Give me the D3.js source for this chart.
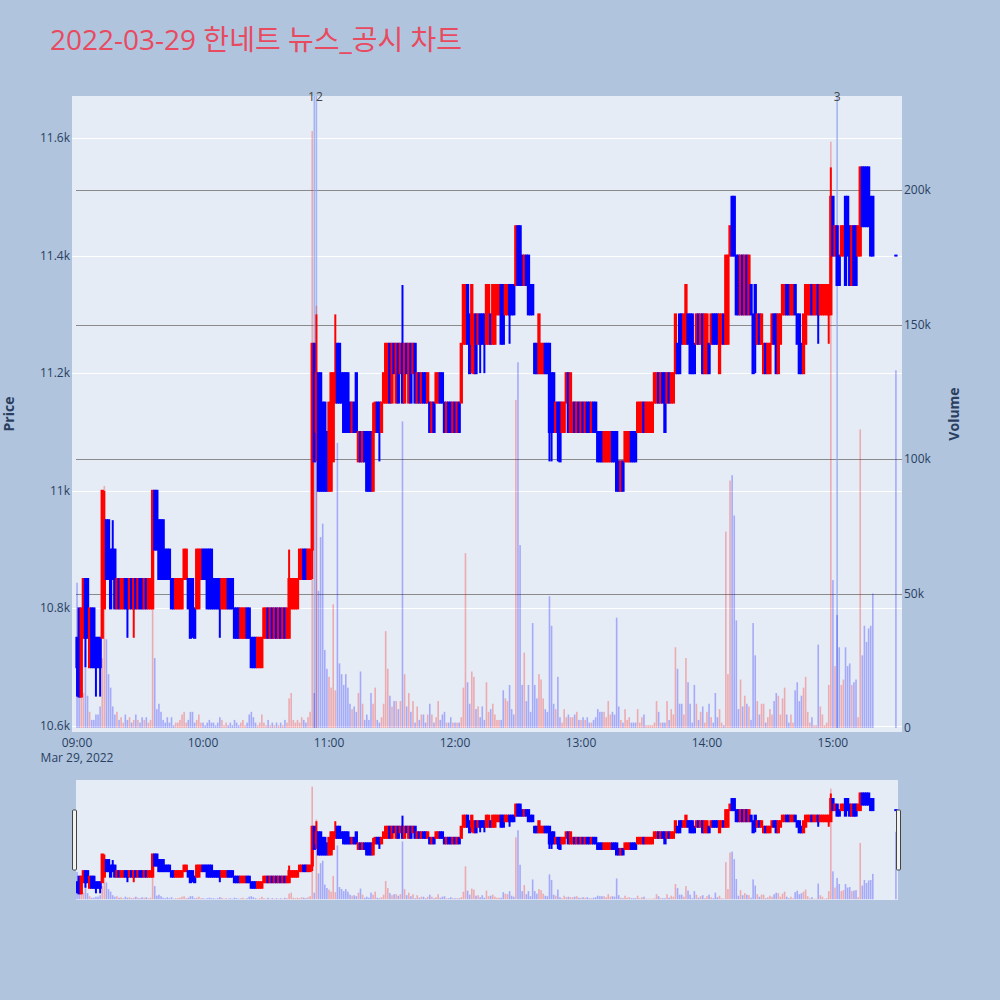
<!DOCTYPE html>
<html><head><meta charset="utf-8">
<script src="https://cdn.jsdelivr.net/npm/d3@7"></script>
<style>body{margin:0;background:#b0c4de;}svg{display:block;font-family:"Open Sans","Noto Sans CJK KR",sans-serif;}</style>
</head><body><svg id="c" width="1000" height="1000"></svg>
<script>
const chartTitle = "2022-03-29 한네트 뉴스_공시 차트";
const sessionDate = "2022-03-29";
const firstBar = "09:00";          // one bar per minute from here
const closingAuctionBar = "15:30"; // last bar (closing auction)
const priceTicks = [10600, 10800, 11000, 11200, 11400, 11600];
const volumeTicks = [0, 50000, 100000, 150000, 200000];
const timeTicks = ["09:00","10:00","11:00","12:00","13:00","14:00","15:00"];
const newsLabels = ["1","2","3"];
const newsTimes = ["10:53","10:54","15:02"];

const opens = [
10750,10800,10650,10750,10850,10850,10700,10800,10800,10750,
10750,10750,10750,10800,10950,10950,10900,10900,10900,10800,
10850,10800,10800,10850,10850,10800,10850,10800,10850,10800,
10850,10850,10800,10850,10800,10800,10800,11000,11000,10950,
10950,10950,10900,10900,10900,10850,10850,10800,10800,10800,
10800,10850,10850,10850,10850,10850,10800,10800,10800,10850,
10900,10900,10900,10900,10900,10850,10850,10850,10850,10800,
10800,10800,10850,10850,10850,10800,10800,10800,10750,10750,
10750,10800,10800,10750,10750,10750,10700,10700,10700,10750,
10750,10800,10750,10800,10750,10800,10750,10800,10750,10800,
10750,10750,10800,10800,10800,10800,10850,10850,10900,10900,
10850,10850,10900,11250,11100,11200,11200,11150,11150,11100,
11000,11000,11050,11150,11250,11250,11200,11200,11200,11200,
11150,11100,11150,11200,11050,11100,11050,11100,11100,11100,
11100,11000,11100,11150,11150,11100,11150,11150,11150,11250,
11150,11250,11150,11250,11200,11250,11150,11250,11150,11250,
11200,11250,11150,11200,11150,11200,11200,11150,11150,11100,
11150,11150,11150,11200,11200,11150,11100,11150,11150,11100,
11150,11100,11150,11150,11250,11250,11350,11300,11250,11200,
11300,11250,11300,11300,11300,11250,11250,11300,11250,11250,
11300,11300,11350,11350,11300,11300,11350,11350,11350,11350,
11450,11450,11400,11350,11400,11400,11350,11350,11250,11250,
11200,11200,11200,11250,11250,11250,11200,11200,11100,11150,
11150,11100,11100,11150,11200,11100,11100,11150,11100,11150,
11100,11150,11100,11150,11150,11100,11150,11150,11100,11100,
11100,11050,11050,11050,11050,11100,11100,11100,11050,11000,
11050,11050,11050,11050,11100,11100,11100,11100,11100,11100,
11150,11100,11100,11100,11100,11150,11150,11200,11150,11200,
11200,11150,11200,11150,11150,11200,11250,11300,11300,11250,
11250,11300,11300,11300,11250,11250,11300,11250,11300,11200,
11200,11250,11250,11300,11300,11300,11200,11250,11300,11250,
11250,11400,11500,11500,11400,11400,11300,11400,11300,11400,
11300,11350,11300,11350,11250,11300,11250,11200,11250,11200,
11200,11250,11300,11300,11200,11250,11300,11300,11350,11350,
11300,11300,11350,11300,11300,11250,11200,11250,11300,11300,
11350,11300,11300,11350,11300,11300,11300,11300,11300,11300,
11500,11400,11450,11400,11400,11400,11500,11500,11450,11350,
11450,11450,11400,11400,11550,11550,11550,11550,11500,11500,
11400];

const highs = [
10750,10800,10800,10850,10850,10850,10800,10800,10800,10750,
10750,10750,11000,11000,10950,10950,10900,10950,10900,10850,
10850,10850,10850,10850,10850,10850,10850,10850,10850,10850,
10850,10850,10850,10850,10850,10850,11000,11000,11000,10950,
10950,10950,10900,10900,10900,10850,10850,10850,10850,10850,
10850,10900,10900,10850,10850,10850,10800,10900,10900,10900,
10900,10900,10900,10900,10900,10850,10850,10850,10850,10850,
10850,10850,10850,10850,10850,10800,10800,10800,10800,10800,
10800,10800,10800,10750,10750,10750,10750,10750,10750,10800,
10800,10800,10800,10800,10800,10800,10800,10800,10800,10800,
10800,10900,10850,10850,10850,10850,10900,10900,10900,10900,
10900,10900,11250,11250,11300,11200,11200,11150,11150,11100,
11150,11200,11200,11300,11250,11250,11200,11200,11200,11200,
11150,11150,11150,11200,11100,11100,11100,11100,11100,11100,
11100,11150,11150,11150,11150,11150,11200,11250,11250,11250,
11250,11250,11250,11250,11250,11350,11250,11250,11250,11250,
11250,11250,11200,11200,11200,11200,11200,11200,11150,11150,
11150,11200,11200,11200,11200,11150,11150,11150,11150,11150,
11150,11150,11150,11250,11350,11350,11350,11300,11350,11300,
11300,11300,11300,11300,11300,11350,11350,11300,11350,11350,
11350,11350,11350,11350,11350,11350,11350,11350,11350,11450,
11450,11450,11400,11400,11400,11400,11350,11350,11250,11250,
11300,11250,11250,11250,11250,11250,11200,11200,11150,11150,
11150,11150,11150,11200,11200,11200,11150,11150,11150,11150,
11150,11150,11150,11150,11150,11150,11150,11150,11100,11100,
11100,11100,11100,11100,11100,11100,11100,11100,11050,11050,
11050,11100,11100,11100,11100,11100,11100,11150,11150,11150,
11150,11150,11150,11150,11150,11200,11200,11200,11200,11200,
11200,11200,11200,11200,11200,11300,11250,11300,11300,11300,
11350,11300,11300,11300,11250,11300,11300,11300,11300,11300,
11300,11250,11300,11300,11300,11300,11300,11300,11300,11400,
11400,11450,11500,11500,11400,11400,11400,11400,11400,11400,
11400,11350,11300,11350,11300,11300,11300,11250,11250,11250,
11250,11300,11300,11300,11300,11300,11350,11350,11350,11350,
11350,11350,11350,11300,11300,11250,11300,11350,11350,11350,
11350,11350,11350,11350,11350,11350,11350,11350,11350,11550,
11500,11450,11450,11400,11450,11450,11500,11500,11450,11450,
11450,11450,11450,11550,11550,11550,11550,11550,11500,11500,
11400];

const lows = [
10650,10650,10650,10750,10700,10750,10700,10700,10700,10650,
10700,10650,10750,10800,10850,10850,10800,10850,10800,10800,
10800,10800,10800,10800,10750,10800,10800,10750,10800,10800,
10800,10800,10800,10800,10800,10800,10800,10900,10900,10850,
10850,10850,10850,10850,10850,10800,10800,10800,10800,10800,
10800,10850,10850,10800,10750,10750,10750,10800,10800,10850,
10850,10850,10800,10800,10800,10800,10800,10800,10750,10800,
10800,10800,10800,10800,10800,10750,10750,10750,10750,10750,
10750,10750,10750,10700,10700,10700,10700,10700,10700,10750,
10750,10750,10750,10750,10750,10750,10750,10750,10750,10750,
10750,10750,10800,10800,10800,10800,10850,10850,10850,10850,
10850,10850,10850,11050,11050,11000,11000,11000,11000,11000,
11000,11000,11050,11150,11150,11150,11150,11100,11100,11100,
11100,11100,11100,11100,11050,11050,11050,11050,11000,11000,
11000,11000,11100,11100,11050,11100,11150,11150,11150,11150,
11150,11200,11150,11150,11200,11150,11150,11200,11150,11150,
11200,11150,11150,11150,11150,11150,11150,11150,11100,11100,
11100,11150,11150,11150,11150,11100,11100,11100,11100,11100,
11100,11100,11100,11150,11250,11250,11250,11200,11200,11200,
11200,11250,11200,11250,11200,11250,11250,11250,11250,11250,
11300,11300,11250,11250,11300,11300,11250,11300,11300,11350,
11350,11350,11350,11350,11350,11300,11300,11300,11200,11200,
11200,11200,11200,11200,11200,11050,11050,11100,11100,11050,
11050,11100,11100,11150,11100,11100,11100,11100,11100,11100,
11100,11100,11100,11100,11100,11100,11100,11100,11050,11050,
11050,11050,11050,11050,11050,11050,11050,11000,11000,11000,
11000,11050,11050,11050,11050,11050,11050,11100,11100,11100,
11100,11100,11100,11100,11100,11150,11150,11150,11150,11150,
11100,11150,11150,11150,11150,11200,11200,11200,11250,11250,
11250,11250,11200,11200,11200,11250,11250,11250,11200,11200,
11200,11200,11250,11250,11250,11250,11200,11250,11250,11250,
11250,11400,11400,11400,11300,11300,11300,11300,11300,11300,
11300,11300,11200,11200,11250,11250,11250,11200,11200,11200,
11200,11250,11250,11200,11200,11250,11300,11300,11300,11300,
11300,11300,11300,11250,11200,11200,11200,11250,11300,11300,
11300,11300,11300,11250,11300,11300,11300,11300,11250,11300,
11400,11400,11350,11350,11400,11400,11350,11400,11350,11350,
11350,11350,11400,11400,11450,11450,11450,11450,11400,11400,
11400];

const closes = [
10700,10650,10800,10850,10750,10750,10800,10700,10700,10700,
10700,10700,11000,10950,10850,10850,10800,10850,10800,10850,
10800,10850,10850,10800,10800,10850,10800,10850,10800,10850,
10800,10800,10850,10800,10850,10850,11000,10900,10900,10850,
10850,10850,10850,10850,10850,10800,10800,10850,10850,10850,
10850,10900,10900,10800,10750,10800,10750,10900,10900,10900,
10850,10850,10800,10800,10800,10800,10800,10800,10800,10850,
10850,10850,10800,10800,10800,10750,10750,10750,10800,10800,
10800,10750,10750,10700,10700,10700,10750,10750,10750,10800,
10800,10750,10800,10750,10800,10750,10800,10750,10800,10750,
10800,10850,10850,10850,10850,10850,10900,10900,10850,10850,
10900,10900,11250,11050,11200,11000,11000,11000,11000,11000,
11150,11200,11200,11200,11150,11150,11150,11100,11100,11100,
11100,11150,11100,11100,11100,11050,11100,11050,11000,11000,
11000,11100,11150,11100,11100,11150,11200,11250,11250,11150,
11250,11200,11250,11150,11250,11150,11250,11200,11250,11150,
11250,11150,11200,11150,11200,11150,11150,11200,11100,11150,
11100,11200,11200,11150,11150,11100,11150,11100,11100,11150,
11100,11150,11100,11250,11350,11350,11250,11200,11350,11300,
11200,11300,11250,11250,11250,11350,11350,11250,11350,11350,
11350,11350,11250,11250,11350,11350,11300,11300,11300,11450,
11350,11350,11350,11400,11350,11300,11300,11300,11200,11200,
11300,11250,11250,11200,11200,11100,11100,11100,11150,11100,
11050,11150,11150,11200,11100,11200,11150,11100,11150,11100,
11150,11100,11150,11100,11100,11150,11100,11100,11050,11050,
11050,11100,11100,11100,11100,11050,11050,11000,11000,11050,
11000,11100,11100,11100,11050,11050,11050,11150,11150,11150,
11100,11150,11150,11150,11150,11200,11200,11150,11200,11150,
11100,11200,11150,11200,11200,11300,11200,11200,11250,11300,
11350,11250,11200,11200,11200,11300,11250,11300,11200,11300,
11300,11200,11300,11250,11250,11250,11300,11300,11250,11400,
11400,11450,11400,11400,11300,11300,11400,11300,11400,11300,
11400,11300,11200,11250,11300,11250,11300,11250,11200,11250,
11250,11300,11250,11200,11300,11300,11350,11350,11300,11300,
11350,11350,11300,11250,11200,11200,11300,11350,11350,11350,
11300,11350,11350,11300,11350,11350,11350,11350,11350,11500,
11400,11450,11350,11350,11450,11450,11350,11400,11350,11450,
11350,11350,11450,11550,11450,11450,11450,11450,11400,11400,
11400];

const volumes = [
54000,35000,30000,13000,29000,12000,6000,3000,3000,5000,
5000,8000,26000,90000,33000,20000,15000,8000,5000,6000,
3000,4000,2000,5000,3000,4000,2000,3000,5000,3000,
2000,4000,3000,4000,2000,3000,46000,26000,7000,9000,
6000,3000,2000,4000,2000,4000,1000,2000,2000,3000,
5000,6000,2000,3000,6000,6000,2000,3000,5000,2000,
2000,1000,2000,3000,2000,2000,1000,2000,4000,3000,
1000,2000,1000,2000,1000,3000,2000,1000,2000,3000,
1000,2000,5000,6000,4000,2000,1000,2000,5000,2000,
1000,3000,1000,2000,1000,2000,1000,2000,1000,3000,
2000,11000,13000,3000,2000,3000,2000,4000,3000,2000,
4000,6000,222000,13000,157000,51000,71000,76000,29000,22000,
19000,15000,46000,14000,106000,24000,20000,16000,20000,15000,
9000,7000,8000,6000,13000,21000,9000,3000,5000,3000,
13000,9000,15000,3000,2000,4000,9000,36000,22000,12000,
8000,10000,10000,7000,10000,114000,20000,8000,13000,6000,
10000,2000,8000,3000,5000,5000,2000,5000,9000,5000,
2000,4000,10000,3000,5000,6000,2000,2000,4000,2000,
2000,2000,2000,4000,15000,65000,17000,9000,21000,19000,
7000,8000,4000,8000,3000,17000,6000,7000,9000,5000,
3000,3000,3000,14000,11000,10000,16000,7000,5000,122000,
136000,68000,16000,28000,10000,16000,6000,39000,16000,11000,
20000,18000,11000,7000,6000,49000,38000,9000,7000,19000,
4000,2000,7000,4000,5000,4000,4000,5000,6000,3000,
3000,4000,3000,4000,2000,2000,3000,4000,7000,6000,
6000,6000,4000,10000,5000,6000,5000,41000,8000,3000,
2000,7000,3000,4000,2000,2000,2000,7000,2000,4000,
5000,1000,1000,1000,1000,2000,10000,6000,2000,2000,
2000,10000,3000,7000,5000,30000,22000,9000,9000,5000,
26000,17000,9000,2000,16000,9000,3000,6000,8000,2000,
6000,9000,4000,2000,13000,4000,7000,2000,1000,73000,
20000,92000,94000,79000,40000,7000,18000,8000,12000,9000,
8000,3000,39000,27000,10000,5000,9000,9000,2000,4000,
7000,5000,10000,13000,12000,5000,11000,15000,5000,2000,
5000,2000,14000,17000,10000,12000,15000,19000,6000,2000,
4000,1000,1000,31000,8000,5000,1000,2000,16000,218000,
55000,23000,42000,30000,16000,18000,30000,23000,24000,16000,
17000,18000,4000,111000,27000,38000,32000,37000,38000,50000,
133000];

// ---------- build ----------
const parse = d3.timeParse("%Y-%m-%d %H:%M");
const t0 = parse(sessionDate + " " + firstBar);
const tEnd = parse(sessionDate + " " + closingAuctionBar);
const bars = opens.map((o, i) => ({
  t: i < opens.length - 1 ? d3.timeMinute.offset(t0, i) : tEnd,
  o, h: highs[i], l: lows[i], c: closes[i], v: volumes[i]
}));
bars.forEach(d => d.up = d.c > d.o);

const P = {l: 72, r: 902, t: 96, b: 732};
const S = {t: 780, b: 900};
const INC = "#ff0000", DEC = "#0000ff";

const x = d3.scaleTime()
  .domain([d3.timeSecond.offset(t0, -144), d3.timeSecond.offset(t0, Math.round(392.9 * 60))])
  .range([P.l, P.r]);
const yP = d3.scaleLinear().domain([10589.8, 11671.4]).range([P.b, P.t]);
const yV = d3.scaleLinear().domain([-1500, 235000]).range([P.b, P.t]);
const yPs = yP.copy().range([S.b, S.t]);
const yVs = yV.copy().range([S.b, S.t]);

const svg = d3.select("#c");
svg.append("rect").attr("width", 1000).attr("height", 1000).attr("fill", "#b0c4de");

const defs = svg.append("defs");
defs.append("clipPath").attr("id", "pc").append("rect")
  .attr("x", P.l).attr("y", P.t).attr("width", P.r - P.l).attr("height", P.b - P.t);

// title
svg.append("text").attr("x", 50).attr("y", 50).attr("font-size", 28)
  .attr("fill", "#e84a5f").text(chartTitle);

// plot bg
svg.append("rect").attr("x", P.l).attr("y", P.t).attr("width", P.r - P.l)
  .attr("height", P.b - P.t).attr("fill", "#e5ecf6");

// price grid (white)
svg.append("g").selectAll("line").data(priceTicks).join("line")
  .attr("x1", P.l).attr("x2", P.r)
  .attr("y1", d => Math.round(yP(d)) + 0.5).attr("y2", d => Math.round(yP(d)) + 0.5)
  .attr("stroke", "#ffffff").attr("stroke-width", 1);

// volume grid (gray)
svg.append("g").selectAll("line").data(volumeTicks.filter(d => d > 0)).join("line")
  .attr("x1", 76).attr("x2", P.r)
  .attr("y1", d => Math.round(yV(d)) + 0.5).attr("y2", d => Math.round(yV(d)) + 0.5)
  .attr("stroke", "#8a8a8a").attr("stroke-width", 1);

function drawMarks(g, yPrice, yVol) {
  g.append("g").selectAll("rect").data(bars).join("rect")
    .attr("x", d => x(d.t) - 0.8).attr("width", 1.6)
    .attr("y", d => yVol(d.v)).attr("height", d => yVol(0) - yVol(d.v))
    .attr("fill", d => d.up ? INC : DEC).attr("opacity", 0.28);
  const cg = g.append("g").selectAll("g").data(bars).join("g");
  cg.append("line")
    .attr("x1", d => x(d.t)).attr("x2", d => x(d.t))
    .attr("y1", d => yPrice(d.h)).attr("y2", d => yPrice(d.l))
    .attr("stroke", d => d.up ? INC : DEC).attr("stroke-width", 2);
  cg.append("rect")
    .attr("x", d => x(d.t) - 0.65).attr("width", 1.3)
    .attr("y", d => yPrice(Math.max(d.o, d.c)))
    .attr("height", d => Math.max(0.01, yPrice(Math.min(d.o, d.c)) - yPrice(Math.max(d.o, d.c))))
    .attr("fill", d => d.up ? INC : DEC)
    .attr("stroke", d => d.up ? INC : DEC).attr("stroke-width", 2);
}

const main = svg.append("g").attr("clip-path", "url(#pc)");
const newsT = newsTimes.map(s => parse(sessionDate + " " + s));
main.append("g").selectAll("line").data(newsT).join("line")
  .attr("x1", d => x(d)).attr("x2", d => x(d)).attr("y1", P.t).attr("y2", 728)
  .attr("stroke", "#8da4f0").attr("stroke-width", 1.6).attr("opacity", 0.75);
drawMarks(main, yP, yV);

// news labels: "1" and "2" share almost the same time, so set them side by side
const labelAnchor = ["end", "start", "middle"];
const labelShift = [0.5, -0.5, 0];
svg.append("g").selectAll("text").data(newsLabels).join("text")
  .attr("x", (d, i) => x(newsT[i]) + labelShift[i]).attr("y", 101)
  .attr("text-anchor", (d, i) => labelAnchor[i])
  .attr("font-size", 12).attr("fill", "#444").text(d => d);

const tickColor = "#2a3f5f";
const fmt = d3.format("~s");
svg.append("g").selectAll("text").data(priceTicks).join("text")
  .attr("x", 70).attr("y", d => yP(d) + 4).attr("text-anchor", "end")
  .attr("font-size", 12).attr("fill", tickColor).text(d => fmt(d));
svg.append("g").selectAll("text").data(volumeTicks).join("text")
  .attr("x", 904).attr("y", d => yV(d) + 4).attr("text-anchor", "start")
  .attr("font-size", 12).attr("fill", tickColor).text(d => fmt(d));
const tickT = timeTicks.map(s => parse(sessionDate + " " + s));
svg.append("g").selectAll("text").data(tickT).join("text")
  .attr("x", d => x(d)).attr("y", 747).attr("text-anchor", "middle")
  .attr("font-size", 12).attr("fill", tickColor).text(d3.timeFormat("%H:%M"));
svg.append("text").attr("x", x(tickT[0])).attr("y", 762).attr("text-anchor", "middle")
  .attr("font-size", 12).attr("fill", tickColor).text(d3.timeFormat("%b %-d, %Y")(t0));

svg.append("text").attr("transform", "translate(14,414) rotate(-90)")
  .attr("text-anchor", "middle").attr("font-size", 14).attr("font-weight", "bold")
  .attr("fill", tickColor).text("Price");
svg.append("text").attr("transform", "translate(959,414) rotate(-90)")
  .attr("text-anchor", "middle").attr("font-size", 14).attr("font-weight", "bold")
  .attr("fill", tickColor).text("Volume");

// range slider
defs.append("clipPath").attr("id", "sc").append("rect")
  .attr("x", 76).attr("y", S.t).attr("width", 822).attr("height", S.b - S.t);
svg.append("rect").attr("x", 76).attr("y", S.t).attr("width", 822).attr("height", S.b - S.t)
  .attr("fill", "#e5ecf6");
const sg = svg.append("g").attr("clip-path", "url(#sc)");
drawMarks(sg, yPs, yVs);
[[72.5, 810], [896.5, 810]].forEach(([hx, hy]) => {
  svg.append("rect").attr("x", hx).attr("y", hy).attr("width", 4).attr("height", 60)
    .attr("rx", 1).attr("fill", "#f2f2f2").attr("stroke", "#444").attr("stroke-width", 1);
});
</script></body></html>
